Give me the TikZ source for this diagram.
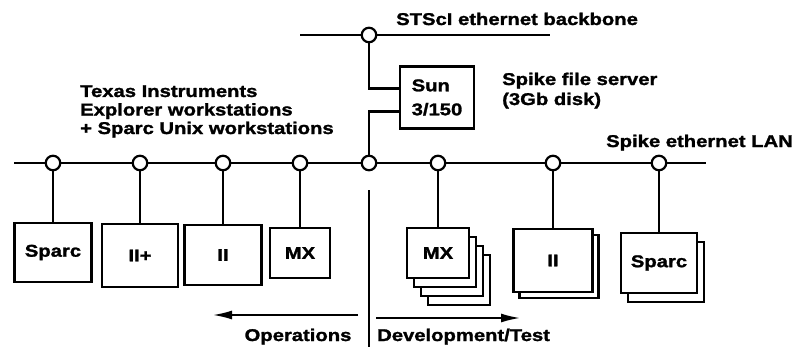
\documentclass[tikz,border=0pt]{standalone}
\usepackage{fontspec}
\newfontfamily\labfont{Liberation Sans}[FakeStretch=1.19,FakeBold=1.5]
\usetikzlibrary{positioning,arrows.meta,backgrounds}

\begin{document}
\begin{tikzpicture}[x=1pt,y=-1pt,
    font=\labfont\bfseries\fontsize{17}{19}\selectfont,
    tap/.style={circle,draw,fill=white,line width=2.2pt,inner sep=0pt,minimum size=14.5pt},
    net/.style={line width=2.9pt},
    wsbox/.style={draw,fill=white,line width=2.3pt,inner sep=0pt,outer sep=0pt},
    lbl/.style={inner sep=0pt,align=left}]
  \useasboundingbox (0,0) rectangle (799,350);
  % the two ethernets
  \coordinate (bbL) at (300,35); \coordinate (bbR) at (550,35);
  \coordinate (lanL) at (14,163); \coordinate (lanR) at (706,163);
  \draw[net] (bbL) -- (bbR);
  \draw[net] (lanL) -- (lanR);
  \node[tap] (bb) at (369,35) {};
  \node[tap] (srv) at (369,163) {};
  \foreach \n/\x in {t1/53,t2/140,t3/223,t4/300,t5/438,t6/553,t7/659}
    \node[tap] (\n) at (\x,163) {};
  % file server
  \node[wsbox,minimum width=74pt,minimum height=62pt,align=left,
        font=\labfont\bfseries\fontsize{17}{24}\selectfont] (sun) at (437,97.5) {Sun\\3/150};
  \draw[net] (bb.south) |- ([yshift=9pt]sun.west);
  \draw[net] (srv.north) |- ([yshift=-14pt]sun.west);
  % workstations
  \foreach \n/\x/\y/\w/\h/\s in {w1/53/252.5/77/59/Sparc,w2/140/255.5/76/63/II+,
      w3/223/255/77/60/II,w4/300/253/60/50/MX,w5/438/253/62/50/MX,
      w6/553/260.5/79/63/II,w7/659/263/76/60/Sparc}
    \node[wsbox,minimum width=\w pt,minimum height=\h pt] (\n) at (\x,\y) {\s};
  \begin{scope}[on background layer]
    \foreach \d/\e in {21/27,14/18,7/9}
      \draw[wsbox] ([shift={(\d,\e)}]w5.north west) rectangle ([shift={(\d,\e)}]w5.south east);
    \draw[wsbox] ([shift={(6,6)}]w6.north west) rectangle ([shift={(6,6)}]w6.south east);
    \draw[wsbox] ([shift={(7,9)}]w7.north west) rectangle ([shift={(7,9)}]w7.south east);
  \end{scope}
  \foreach \i in {1,...,7}
    \draw[net] (t\i.south) -- (w\i.north);
  % operations / development split
  \coordinate (divT) at (369,190); \coordinate (divB) at (369,347);
  \draw[line width=1.4pt] (divT) -- (divB);
  \coordinate (opsR) at (358,315); \coordinate (opsL) at (213,315);
  \coordinate (devL) at (376,318); \coordinate (devR) at (520,318);
  \draw[line width=1.7pt,-{Latex[length=19pt,width=9pt]}] (opsR) -- (opsL);
  \draw[line width=1.7pt,-{Latex[length=19pt,width=9pt]}] (devL) -- (devR);
  \node[lbl,anchor=base] (ops) at (298,341) {Operations};
  \node[lbl,anchor=base west] (dev) at (377,341) {Development/Test};
  % labels
  \node[lbl,anchor=base west] (bbtxt) at (396,25) {STScI ethernet backbone};
  \node[lbl,anchor=base west,font=\labfont\bfseries\fontsize{17}{20}\selectfont] (srvtxt) at (502,105)
    {Spike file server\\(3Gb disk)};
  \node[lbl,anchor=base west] (lantxt) at (606,147) {Spike ethernet LAN};
  \node[lbl,anchor=base west,font=\labfont\bfseries\fontsize{17}{18.5}\selectfont] (titxt) at (80,134)
    {Texas Instruments\\Explorer workstations\\+ Sparc Unix workstations};
\end{tikzpicture}
\end{document}
